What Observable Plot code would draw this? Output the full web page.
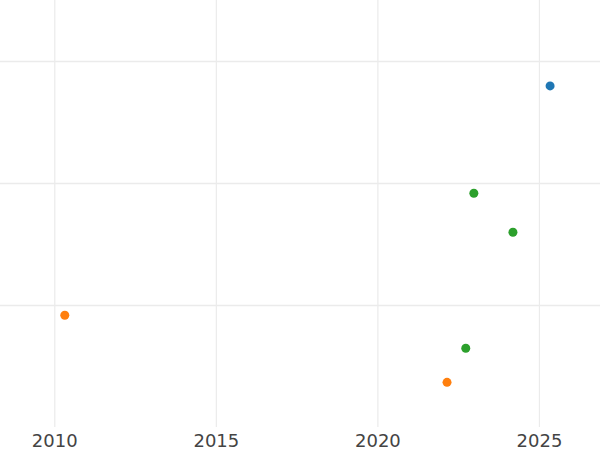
<!DOCTYPE html>
<html>
<head>
<meta charset="utf-8">
<script src="https://cdn.jsdelivr.net/npm/d3@7"></script>
<script src="https://cdn.jsdelivr.net/npm/@observablehq/plot@0.6"></script>
<style>
  html, body { margin: 0; padding: 0; background: #fff; }
</style>
</head>
<body>
<div id="chart"></div>
<script>
const years  = [2025.33, 2022.97, 2024.18, 2022.72, 2010.31, 2022.14];
const values = [2.80, 1.92, 1.60, 0.65, 0.92, 0.37];
const groups = ["A", "C", "C", "C", "B", "B"];
const groupNames = ["A", "B", "C"];
const groupColors = ["#1f77b4", "#ff7f0e", "#2ca02c"];
const xTicks = [2010, 2015, 2020, 2025];
const yTicks = [1, 2, 3];

const data = years.map((x, i) => ({x, y: values[i], g: groups[i]}));

const chart = Plot.plot({
  width: 600,
  height: 450,
  marginLeft: 0,
  marginRight: 0,
  marginTop: 0,
  marginBottom: 23,
  style: {fontFamily: "DejaVu Sans", background: "#fff"},
  x: {domain: [2008.32, 2026.89], ticks: xTicks, tickFormat: "d"},
  y: {domain: [0, 3.5], axis: null},
  color: {domain: groupNames, range: groupColors},
  marks: [
    Plot.ruleX(xTicks, {stroke: "#ebebeb", strokeWidth: 1.2, strokeOpacity: 1}),
    Plot.ruleY(yTicks, {stroke: "#ebebeb", strokeWidth: 1.5, strokeOpacity: 1}),
    Plot.axisX({ticks: xTicks, tickFormat: "d", tickSize: 0, tickPadding: 7, fontSize: 18, fill: "#444", label: null}),
    Plot.dot(data, {x: "x", y: "y", fill: "g", r: 4.5, stroke: "none"})
  ]
});
document.getElementById("chart").appendChild(chart);
</script>
</body>
</html>
